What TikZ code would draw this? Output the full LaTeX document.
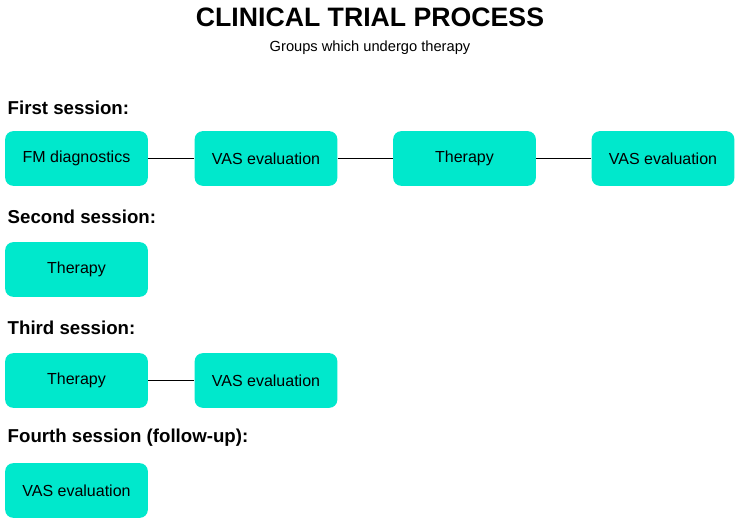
\documentclass[tikz,border=0pt]{standalone}
\usepackage{fontspec}
\setmainfont{Liberation Sans}
\usepackage{tikz}
\usetikzlibrary{positioning}
\definecolor{boxcol}{RGB}{0,232,204}

\begin{document}
\begin{tikzpicture}[x=0.75pt,y=-0.75pt,
                    stage/.style={fill=boxcol, rounded corners=6pt, minimum width=107pt, minimum height=41pt, font=\fontsize{12}{14}\selectfont},
                    head/.style={anchor=west, font=\bfseries\fontsize{14}{16}\selectfont},
                    link/.style={thick, black},
                   ]

\useasboundingbox (0,0) rectangle (740,524);

\node[font=\bfseries\fontsize{20}{22}\selectfont] (title) at (370,17) {CLINICAL TRIAL PROCESS};
\node[font=\fontsize{11}{13}\selectfont] (sub) at (370,48) {Groups which undergo therapy};

% sessions
\node[head] (h1) at (3,108) {First session:};
\node[head] (h2) at (3,217) {Second session:};
\node[head] (h3) at (3,328) {Third session:};
\node[head] (h4) at (3,438) {Fourth session (follow-up):};

\node[stage] (fm) at (76.5,158.5) {FM diagnostics};
\node[stage] (vas1) at (266,158.5) {VAS evaluation};
\node[stage] (th1) at (464.5,158.5) {Therapy};
\node[stage] (vas2) at (663,158.5) {VAS evaluation};

\node[stage] (th2) at (76.5,269.5) {Therapy};

\node[stage] (th3) at (76.5,380.5) {Therapy};
\node[stage] (vas3) at (266,380.5) {VAS evaluation};

\node[stage] (vas4) at (76.5,490.5) {VAS evaluation};

\draw[link] (fm) -- (vas1);
\draw[link] (vas1) -- (th1);
\draw[link] (th1) -- (vas2);
\draw[link] (th3) -- (vas3);

\end{tikzpicture}
\end{document}
